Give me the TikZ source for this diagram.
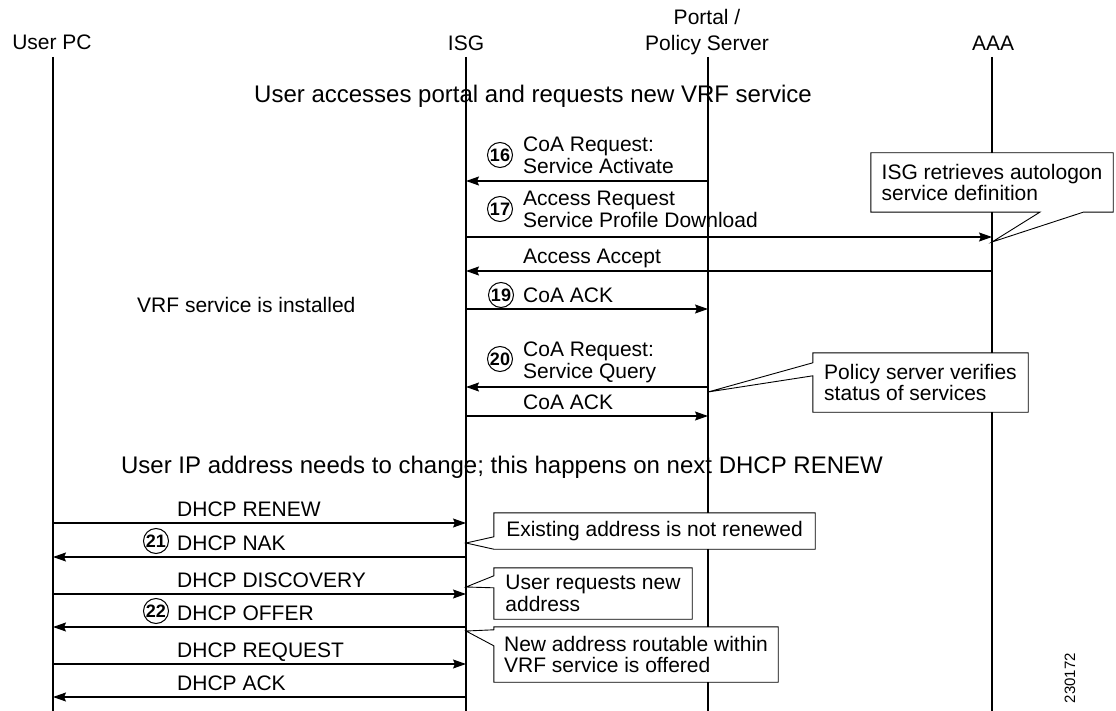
\documentclass[tikz,border=0pt]{standalone}
\usepackage{fontspec}
\setmainfont{Liberation Sans}
\usepackage{tikz}
\usetikzlibrary{arrows.meta}

\tikzset{
  life/.style={line width=1.1pt},
  msg/.style={line width=1.2pt, -{Stealth[length=13pt,width=9pt,inset=2pt]}},
  lbl/.style={inner sep=0pt, font=\fontsize{21}{21.5}\selectfont},
  headline/.style={inner sep=0pt, font=\fontsize{24}{24}\selectfont},
  stepnum/.style={circle, draw, line width=1pt, minimum size=25pt, inner sep=0pt,
    font=\fontsize{18}{18}\selectfont\bfseries},
  notetext/.style={inner sep=0pt, align=left, fill=white, font=\fontsize{21}{21.5}\selectfont},
  notebox/.style={line width=0.9pt, line join=miter},
}

\begin{document}
\begin{tikzpicture}[x=1pt,y=-1pt]
  \useasboundingbox (0,0) rectangle (1116,711);

  % Lifelines
  \foreach \n/\x in {pc/53,isg/466,portal/708,aaa/992}{
    \coordinate (\n) at (\x,57);
    \draw[life] (\n) -- (\x,711);
  }

  % Column heads
  \node[lbl] (pcname) at (52,42) {User PC};
  \node[lbl] (isgname) at (466,43) {ISG};
  \node[lbl, align=center, anchor=north, font=\fontsize{21}{26}\selectfont]
    (portalname) at (707,9) {Portal /\\Policy Server};
  \node[lbl] (aaaname) at (993,43) {AAA};

  % Service activation
  \node[headline, anchor=base] (phase1) at (533,103)
    {User accesses portal and requests new VRF service};

  \node[stepnum] (s16) at (500,155) {16};
  \node[lbl, anchor=north west, align=left] (m16) at (523,137)
    {CoA Request:\\Service Activate};
  \draw[msg] (portal |- 0,181) -- (isg |- 0,181);

  \node[stepnum] (s17) at (500,209) {17};
  \node[lbl, anchor=north west, align=left] (m17) at (523,191)
    {Access Request\\Service Profile Download};
  \draw[msg] (isg |- 0,237) -- (aaa |- 0,237);

  \node[lbl, anchor=base west] (m18) at (523,263.5) {Access Accept};
  \draw[msg] (aaa |- 0,271) -- (isg |- 0,271);

  \node[stepnum] (s19) at (501,295) {19};
  \node[lbl, anchor=base west] (m19) at (523,302) {CoA ACK};
  \draw[msg] (isg |- 0,309) -- (portal |- 0,309);

  \node[lbl, anchor=base west] (installed) at (137,312.5) {VRF service is installed};

  % Service query
  \node[stepnum] (s20) at (500,359) {20};
  \node[lbl, anchor=north west, align=left] (m20) at (523,342)
    {CoA Request:\\Service Query};
  \draw[msg] (portal |- 0,387) -- (isg |- 0,387);

  \node[lbl, anchor=base west] (m20b) at (523,409.5) {CoA ACK};
  \draw[msg] (isg |- 0,416) -- (portal |- 0,416);

  % DHCP renew
  \node[headline, anchor=base] (phase2) at (502,473.5)
    {User IP address needs to change; this happens on next DHCP RENEW};

  \foreach \a/\b/\y/\txt [count=\i] in {pc/isg/523/DHCP RENEW, isg/pc/557/DHCP NAK,
      pc/isg/594/DHCP DISCOVERY, isg/pc/627/DHCP OFFER,
      pc/isg/664/DHCP REQUEST, isg/pc/697/DHCP ACK}{
    \draw[msg] (\a |- 0,\y) -- (\b |- 0,\y);
    \node[lbl, anchor=base west] (d\i) at (177,\y-7) {\txt};
  }
  \node[stepnum] (s21) at (156,541) {21};
  \node[stepnum] (s22) at (156,611) {22};

  % Notes
  \node[notetext, minimum width=242pt, minimum height=59pt] (n1) at (992,182.5)
    {ISG retrieves autologon\\service definition};
  \coordinate (t1) at (aaa |- 0,242);
  \draw[notebox] (n1.north west) -- (n1.north east) -- (n1.south east)
    -- ([xshift=-30pt]n1.south east) -- (t1) -- ([xshift=169pt]n1.south west)
    -- (n1.south west) -- cycle;

  \node[notetext, minimum width=215pt, minimum height=59pt] (n2) at (920.5,382.5)
    {Policy server verifies\\status of services};
  \coordinate (t2) at (portal |- 0,392);
  \draw[notebox] (n2.north west) -- (n2.north east) -- (n2.south east)
    -- (n2.south west) -- ([yshift=-23pt]n2.north west) -- (t2)
    -- ([yshift=-10pt]n2.north west) -- cycle;

  \node[notetext, minimum width=321pt, minimum height=36pt] (n3) at (654.5,531)
    {Existing address is not renewed};
  \coordinate (t3) at (isg |- 0,543);
  \draw[notebox] (n3.north west) -- (n3.north east) -- (n3.south east)
    -- (n3.south west) -- (t3) -- ([yshift=-24pt]n3.north west) -- cycle;

  \node[notetext, minimum width=198pt, minimum height=51pt] (n4) at (593,593.5)
    {User requests new\\address};
  \coordinate (t4) at (isg |- 0,587);
  \draw[notebox] (n4.north west) -- (n4.north east) -- (n4.south east)
    -- (n4.south west) -- ([yshift=-20pt]n4.north west) -- (t4)
    -- ([yshift=-8pt]n4.north west) -- cycle;

  \node[notetext, minimum width=284pt, minimum height=55pt] (n5) at (636,654.5)
    {New address routable within\\VRF service is offered};
  \coordinate (t5) at (isg |- 0,631);
  \draw[notebox] (n5.north west) -- (n5.north east) -- (n5.south east)
    -- (n5.south west) -- ([yshift=-19pt]n5.north west) -- (t5)
    -- ([yshift=-3pt]n5.north west) -- cycle;

  % Figure number
  \node[rotate=90, inner sep=0pt, font=\fontsize{15}{15}\selectfont] (figid) at (1070,678) {230172};
\end{tikzpicture}
\end{document}
